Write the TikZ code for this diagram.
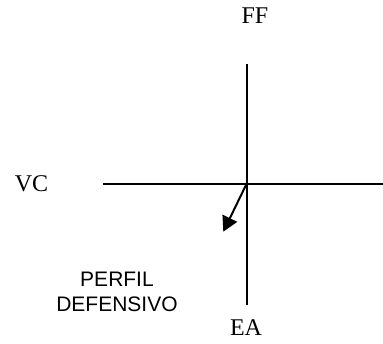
\documentclass[tikz,border=0pt]{standalone}
\usepackage{fontspec}
\setmainfont{Liberation Serif}
\newfontfamily\arialfont{Liberation Sans}
\usetikzlibrary{arrows.meta}
\tikzset{
  axis/.style={line width=2pt},
  seriflabel/.style={inner sep=0pt, font=\fontsize{24}{28}\selectfont},
  sanslabel/.style={inner sep=0pt, align=center, font=\arialfont\fontsize{21}{25}\selectfont},
}
\begin{document}
\begin{tikzpicture}[x=1pt,y=-1pt]
  \useasboundingbox (0,0) rectangle (383,343);
  % axes
  \coordinate (top) at (246.5,64);
  \coordinate (bottom) at (246.5,305);
  \coordinate (left) at (103,184);
  \coordinate (right) at (383,184);
  \coordinate (origin) at (246.5,184);
  \coordinate (tip) at (223.3,231.7);
  \draw[axis] (top) -- (bottom);
  \draw[axis] (left) -- (right);
  % direction arrow
  \draw[axis, -{Triangle[length=15pt,width=16pt]}] (origin) -- (tip);
  % labels
  \node[seriflabel] (ff) at (255,16) {FF};
  \node[seriflabel] (vc) at (31.5,184) {VC};
  \node[seriflabel] (ea) at (246,328) {EA};
  \node[sanslabel] (perfil) at (117,292) {PERFIL\\DEFENSIVO};
\end{tikzpicture}
\end{document}
